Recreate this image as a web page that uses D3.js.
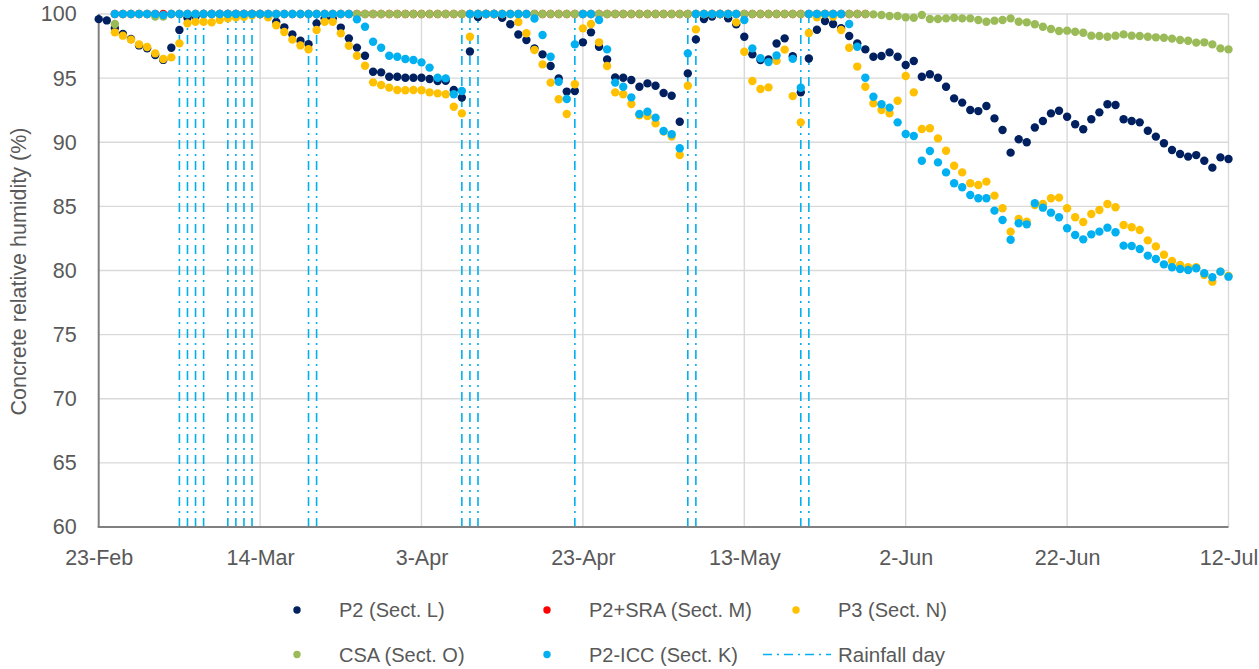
<!DOCTYPE html>
<html>
<head>
<meta charset="utf-8">
<script src="https://cdn.jsdelivr.net/npm/d3@7"></script>
<style>
  html, body { margin: 0; padding: 0; background: #fff; }
  svg { display: block; }
  text { font-family: "Liberation Sans", Arial, sans-serif; fill: #595959; }
</style>
</head>
<body>
<svg id="chart" width="1259" height="669"></svg>
<script>
// ---------------- DATA ----------------
const startDate = "2024-02-23";
const endDate = "2024-07-12";

// daily readings, index 0 = 23-Feb
const p2 = [
  99.6, 99.5, 98.9, 98.45, 98.05, 97.55, 97.33, 96.8, 96.42, 97.37,
  98.75, 99.7, 99.8, 100, 100, 100, 100, 100, 100, 100,
  100, 99.85, 99.38, 98.96, 98.4, 97.92, 97.65, 99.27, 99.66, 99.66,
  98.94, 98.1, 97.38, 96.75, 95.5, 95.45, 95.11, 95.11, 95.03, 95.03,
  95.03, 94.93, 94.78, 94.8, 94.07, 93.48, 97.08, 99.77, 100, 100,
  99.7, 99.2, 98.4, 97.97, 97.32, 96.85, 95.95, 94.98, 93.95, 94.0,
  97.79, 98.57, 97.45, 96.46, 95.06, 95.03, 94.85, 94.33, 94.59, 94.41,
  93.84, 93.63, 91.6, 95.37, 98.02, 99.61, 99.8, 100, 99.66, 99.19,
  98.23, 96.85, 96.41, 96.45, 97.7, 98.1, 96.7, 93.89, 96.53, 98.77,
  99.46, 99.22, 98.9, 98.28, 97.71, 97.24, 96.67, 96.72, 97.01, 96.67,
  96.02, 96.33, 95.11, 95.3, 95.03, 94.33, 93.42, 93.09, 92.51, 92.43,
  92.83, 91.86, 90.96, 89.19, 90.23, 90.0, 91.15, 91.66, 92.25, 92.46,
  91.99, 91.4, 91.01, 91.79, 92.33, 92.96, 92.9, 91.79, 91.66, 91.55,
  90.9, 90.44, 89.92, 89.4, 89.08, 88.88, 89.0, 88.56, 88.02, 88.82,
  88.69
];

const p2sra = [
  null, null, 100, 100, 100, 100, 100, 100, 100, 100,
  100, 100, 100, 100, 100, 100, 100, 100, 100, 100,
  100, 100, 100, 100, 100, 100, 100, 100, 100, 100,
  100, 100, 100, 100, 100, 100, 100, 100, 100, 100,
  100, 100, 100, 100, 100, 100, 100, 100, 100, 100,
  100, 100, 100, 100, 100, 100, 100, 100, 100, 100,
  100, 100, 100, 100, 100, 100, 100, 100, 100, 100,
  100, 100, 100, 100, 100, 100, 100, 100, 100, 100,
  100, 100, 100, 100, 100, 100, 100, 100, 100, 100,
  100, 100, 100, 100, 100, 100
];

const p3 = [
  null, null, 98.57, 98.31, 98.0, 97.63, 97.43, 96.93, 96.49, 96.62,
  97.71, 99.27, 99.4, 99.4, 99.35, 99.53, 99.66, 99.74, 99.78, 99.9,
  100, 99.74, 99.12, 98.6, 98.0, 97.55, 97.25, 98.75, 99.4, 99.4,
  98.49, 97.53, 96.75, 95.97, 94.67, 94.46, 94.26, 94.07, 94.05, 94.07,
  94.05, 93.89, 93.81, 93.74, 92.77, 92.25, 98.23, 100, 100, 100,
  100, 100, 99.38, 98.5, 97.19, 96.07, 94.65, 93.35, 92.2, 94.52,
  98.88, 99.22, 97.79, 95.95, 93.89, 93.74, 92.98, 92.1, 92.05, 91.47,
  90.83, 90.44, 89.0, 94.41, 98.8, 100, 100, 100, 100, 99.35,
  97.06, 94.78, 94.15, 94.28, 96.36, 97.22, 93.6, 91.55, 98.52, 99.74,
  100, 99.8, 98.75, 97.37, 95.9, 94.33, 93.03, 92.51, 92.25, 93.24,
  95.17, 93.89, 91.03, 91.09, 90.3, 89.34, 88.17, 87.65, 86.8, 86.67,
  86.93, 85.84, 84.85, 83.03, 84.02, 83.81, 85.11, 85.19, 85.63, 85.68,
  84.85, 84.15, 83.78, 84.41, 84.72, 85.19, 84.93, 83.55, 83.37, 83.16,
  82.35, 81.88, 81.23, 80.74, 80.43, 80.25, 80.25, 79.65, 79.13, 79.91,
  79.57
];

const csa = [
  null, null, 99.22, 100, 100, 100, 100, 99.8, 99.8, 100,
  100, 100, 100, 100, 100, 100, 100, 100, 100, 100,
  100, 100, 100, 100, 100, 100, 100, 100, 100, 100,
  100, 100, 100, 100, 100, 100, 100, 100, 100, 100,
  100, 100, 100, 100, 100, 100, 100, 100, 100, 100,
  100, 100, 100, 100, 100, 100, 100, 100, 100, 100,
  100, 100, 100, 100, 100, 100, 100, 100, 100, 100,
  100, 100, 100, 100, 100, 100, 100, 100, 100, 100,
  100, 100, 100, 100, 100, 100, 100, 100, 100, 100,
  100, 100, 100, 100, 100, 100, 99.97, 99.92, 99.84, 99.84,
  99.74, 99.71, 99.92, 99.61, 99.61, 99.66, 99.71, 99.66, 99.66, 99.53,
  99.4, 99.48, 99.53, 99.66, 99.4, 99.35, 99.2, 99.01, 98.83, 98.67,
  98.7, 98.62, 98.54, 98.31, 98.28, 98.23, 98.31, 98.41, 98.31, 98.28,
  98.23, 98.18, 98.15, 98.08, 97.97, 97.92, 97.77, 97.79, 97.63, 97.32,
  97.24
];

const p2icc = [
  null, null, 100, 100, 100, 100, 100, 100, 99.92, 100,
  100, 100, 100, 100, 100, 100, 100, 100, 100, 100,
  100, 100, 100, 100, 100, 100, 100, 100, 100, 100,
  100, 100, 99.58, 99.01, 97.84, 97.37, 96.75, 96.67, 96.49, 96.41,
  96.23, 95.82, 95.03, 94.98, 93.74, 94.0, 100, 100, 100, 100,
  100, 100, 100, 100, 99.65, 98.36, 96.67, 94.72, 93.37, 97.63,
  100, 100, 99.53, 97.24, 94.65, 94.33, 93.5, 92.2, 92.38, 91.92,
  90.88, 90.62, 89.53, 96.93, 100, 100, 100, 100, 100, 100,
  99.53, 97.32, 96.55, 96.25, 96.77, null, 96.5, 94.25, 100, 100,
  100, 100, 100, 99.22, 97.45, 95.03, 93.55, 92.96, 92.7, 91.55,
  90.64, 90.49, 88.56, 89.32, 88.43, 87.65, 86.8, 86.49, 85.89, 85.63,
  85.63, 84.67, 83.94, 82.4, 83.68, 83.6, 85.24, 84.9, 84.51, 84.15,
  83.29, 82.77, 82.43, 82.82, 83.03, 83.34, 82.98, 81.94, 81.91, 81.68,
  81.16, 80.9, 80.48, 80.25, 80.12, 80.04, 80.17, 79.78, 79.47, 79.91,
  79.52
];

const rainfallDays = [
  "2024-03-04", "2024-03-05", "2024-03-06", "2024-03-07",
  "2024-03-10", "2024-03-11", "2024-03-12", "2024-03-13",
  "2024-03-20", "2024-03-21",
  "2024-04-08", "2024-04-09", "2024-04-10",
  "2024-04-22",
  "2024-05-06", "2024-05-07",
  "2024-05-20", "2024-05-21"
];

const xTickDates = ["2024-02-23", "2024-03-14", "2024-04-03", "2024-04-23",
                    "2024-05-13", "2024-06-02", "2024-06-22", "2024-07-12"];
const yTicks = [60, 65, 70, 75, 80, 85, 90, 95, 100];

const seriesNames = ["P2 (Sect. L)", "P2+SRA (Sect. M)", "P3 (Sect. N)", "CSA (Sect. O)", "P2-ICC (Sect. K)"];
const seriesColors = ["#002060", "#FF0000", "#FFC000", "#9BBB59", "#00B0F0"];
const seriesValues = [p2, p2sra, p3, csa, p2icc];
const rainfallLabel = "Rainfall day";
const yTitle = "Concrete relative humidity  (%)";

// ---------------- CHART ----------------
(function () {
const parse = d3.utcParse("%Y-%m-%d");
const fmt = d3.utcFormat("%-d-%b");
const t0 = parse(startDate);
const dash = "9,5,2,5";

const svg = d3.select("#chart");
const mLeft = 98.7, mRight = 1228.5, mTop = 14, mBottom = 527;

const x = d3.scaleUtc().domain([t0, parse(endDate)]).range([mLeft, mRight]);
const y = d3.scaleLinear().domain([60, 100]).range([mBottom, mTop]);

// gridlines
const grid = svg.append("g");
grid.selectAll("line.h").data(yTicks.slice(1)).enter().append("line")
  .attr("x1", mLeft).attr("x2", mRight)
  .attr("y1", d => y(d)).attr("y2", d => y(d))
  .attr("stroke", "#D9D9D9").attr("stroke-width", 1.4);
grid.selectAll("line.v").data(xTickDates.slice(1)).enter().append("line")
  .attr("x1", d => x(parse(d))).attr("x2", d => x(parse(d)))
  .attr("y1", mTop).attr("y2", mBottom)
  .attr("stroke", "#D9D9D9").attr("stroke-width", 1.4);

// rainfall lines
svg.append("g").selectAll("line").data(rainfallDays).enter().append("line")
  .attr("x1", d => x(parse(d))).attr("x2", d => x(parse(d)))
  .attr("y1", y(100)).attr("y2", y(60))
  .attr("stroke", "#00B0F0").attr("stroke-width", 1.6)
  .attr("stroke-dasharray", dash);

// axes lines
svg.append("line").attr("x1", mLeft).attr("x2", mLeft).attr("y1", mTop).attr("y2", mBottom)
  .attr("stroke", "#808080").attr("stroke-width", 2);
svg.append("line").attr("x1", mLeft - 1).attr("x2", mRight).attr("y1", mBottom).attr("y2", mBottom)
  .attr("stroke", "#808080").attr("stroke-width", 2);

// axis labels via d3 axes (domain & ticks hidden)
const yAxis = svg.append("g").attr("transform", `translate(${mLeft},0)`)
  .call(d3.axisLeft(y).tickValues(yTicks).tickSize(0).tickPadding(22));
yAxis.select(".domain").remove();
yAxis.selectAll("text").attr("font-size", 21.5).attr("font-family", "Liberation Sans, Arial, sans-serif").attr("fill", "#595959");

const xAxis = svg.append("g").attr("transform", `translate(0,${mBottom})`)
  .call(d3.axisBottom(x).tickValues(xTickDates.map(parse)).tickFormat(fmt).tickSize(0).tickPadding(23));
xAxis.select(".domain").remove();
xAxis.selectAll("text").attr("font-size", 21.5).attr("font-family", "Liberation Sans, Arial, sans-serif").attr("fill", "#595959");

// y title
svg.append("text")
  .attr("transform", `translate(26,${(mTop + mBottom) / 2 + 1}) rotate(-90)`)
  .attr("text-anchor", "middle")
  .attr("font-size", 21.5)
  .text(yTitle);

// points
const dayDate = i => d3.utcDay.offset(t0, i);
seriesValues.forEach((vals, si) => {
  const pts = vals.map((v, i) => ({ d: dayDate(i), v })).filter(p => p.v != null);
  svg.append("g").selectAll("circle").data(pts).enter().append("circle")
    .attr("cx", p => x(p.d)).attr("cy", p => y(p.v)).attr("r", 4.2)
    .attr("fill", seriesColors[si]);
});

// legend
const legend = svg.append("g");
const legendItems = [
  { name: seriesNames[0], color: seriesColors[0], cx: 297, cy: 610 },
  { name: seriesNames[1], color: seriesColors[1], cx: 547, cy: 610 },
  { name: seriesNames[2], color: seriesColors[2], cx: 796, cy: 610 },
  { name: seriesNames[3], color: seriesColors[3], cx: 297, cy: 654.5 },
  { name: seriesNames[4], color: seriesColors[4], cx: 547, cy: 654.5 }
];
legendItems.forEach(it => {
  legend.append("circle").attr("cx", it.cx).attr("cy", it.cy).attr("r", 3.7).attr("fill", it.color);
  legend.append("text").attr("x", it.cx + 42).attr("y", it.cy + 7).attr("font-size", 20).text(it.name);
});
legend.append("line").attr("x1", 763).attr("x2", 831).attr("y1", 654.5).attr("y2", 654.5)
  .attr("stroke", "#00B0F0").attr("stroke-width", 1.6).attr("stroke-dasharray", dash);
legend.append("text").attr("x", 838).attr("y", 661.5).attr("font-size", 20.5).text(rainfallLabel);
})();
</script>
</body>
</html>
